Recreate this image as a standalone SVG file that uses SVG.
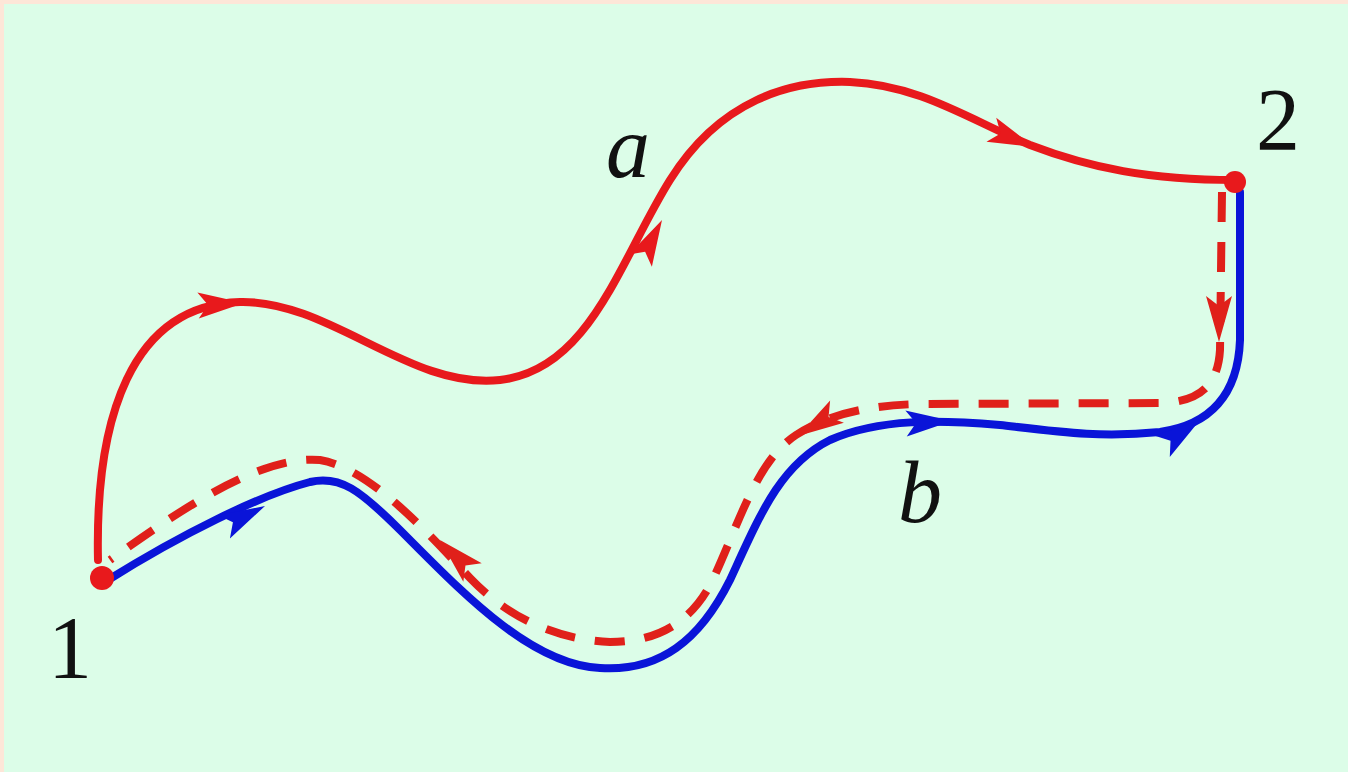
<svg xmlns="http://www.w3.org/2000/svg" width="1348" height="772" viewBox="0 0 1348 772">
<style>
.red{fill:none;stroke:#e8191c;stroke-width:8;stroke-linecap:round;stroke-linejoin:round}
.dash{fill:none;stroke:#e0201a;stroke-width:8;stroke-dasharray:30 20}
.blue{fill:none;stroke:#0a14d8;stroke-width:8;stroke-linecap:round}
.lbl{font-family:"Liberation Serif",serif;font-size:88px;fill:#111}
.it{font-style:italic}
</style>
<defs>
<path id="ah" d="M 0 0 L -46 -13 L -36 0 L -46 13 Z"/>
</defs>
<rect x="0" y="0" width="1348" height="772" fill="#fde6d8"/>
<rect x="4" y="4" width="1344" height="768" fill="#dcfde8"/>
<g id="connectors">
<path class="red" d="M 98 560 C 95 420, 130 305, 240 302 C 330 300, 410 390, 500 380 C 590 370, 620 260, 670 180 C 720 100, 790 80, 850 82 C 920 85, 970 120, 1030 145 C 1090 168, 1150 180, 1235 180"/>
<path class="dash" d="M 1222 192 L 1220 350 C 1218 385, 1200 402, 1160 403 L 920 404 C 870 405, 828 414, 796 435 C 758 460, 742 515, 715 575 C 695 620, 660 642, 610 642 C 560 640, 510 620, 470 578 C 430 535, 370 468, 320 460 C 260 455, 180 510, 110 560"/>
<path class="blue" d="M 108 580 C 180 535, 260 495, 310 482 C 340 475, 360 490, 400 530 C 460 590, 530 665, 600 668 C 660 672, 700 640, 730 580 C 760 515, 780 465, 830 440 C 880 418, 940 420, 1000 425 C 1060 432, 1100 438, 1160 432 C 1210 425, 1238 395, 1240 340 L 1240 192"/>
<g fill="#e8191c">
<use href="#ah" transform="translate(244,303) rotate(-3)"/>
<use href="#ah" transform="translate(662,220) rotate(-62)"/>
<use href="#ah" transform="translate(1034,147) rotate(22)"/>
</g>
<g fill="#e0201a">
<use href="#ah" transform="translate(1219,342) rotate(90)"/>
<use href="#ah" transform="translate(798,436) rotate(148)"/>
<use href="#ah" transform="translate(440,540) rotate(-135)"/>
</g>
<g fill="#0a14d8">
<use href="#ah" transform="translate(265,506) rotate(-27)"/>
<use href="#ah" transform="translate(952,421) rotate(-3)"/>
<use href="#ah" transform="translate(1200,420) rotate(-35)"/>
</g>
</g>
<g id="node1">
<circle cx="102" cy="578" r="12" fill="#e8191c"/>
<text class="lbl" x="48" y="677">1</text>
</g>
<g id="node2">
<circle cx="1235" cy="182" r="11" fill="#e8191c"/>
<text class="lbl" x="1256" y="149">2</text>
</g>
<g id="label-a"><text class="lbl it" x="606" y="177">a</text></g>
<g id="label-b"><text class="lbl it" x="898" y="522">b</text></g>
</svg>
